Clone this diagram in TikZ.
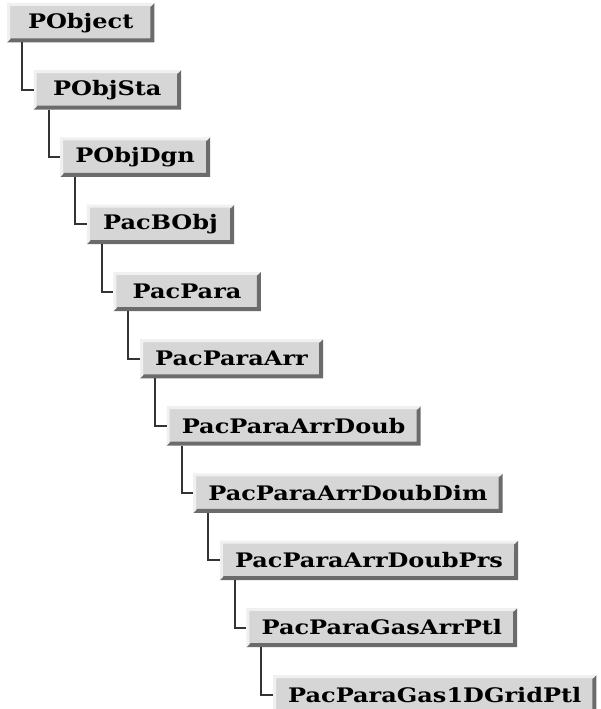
\documentclass[tikz,border=0pt]{standalone}
\usepackage{fontspec}
\newfontfamily\classfont{DejaVu Serif}[FakeStretch=1.2]
\usetikzlibrary{positioning}
\definecolor{boxface}{HTML}{D6D6D6}
\definecolor{boxlight}{HTML}{F0F0F0}
\definecolor{boxdark}{HTML}{6B6B6B}
\definecolor{linkdark}{HTML}{333333}
\tikzset{
  cls/.style={rectangle,fill=boxface,minimum height=39pt,minimum width=147pt,
    inner xsep=15pt,inner ysep=0pt,
    font=\classfont\bfseries\fontsize{20}{24}\selectfont},
  link/.style={draw=linkdark,line width=2pt}
}

\begin{document}
\begin{tikzpicture}[
    node distance=27.8pt,
    every node/.append style={anchor=north west}
]
\useasboundingbox (0,0) rectangle (600pt,-709pt);

% class chain, each one step down and right
\node[cls] (pobject) at (7pt,-3pt) {PObject};
\node[cls,below=of pobject.south west,anchor=north west,xshift=26.6pt] (pobjsta) {PObjSta};
\node[cls,below=of pobjsta.south west,anchor=north west,xshift=26.6pt] (pobjdgn) {PObjDgn};
\node[cls,below=of pobjdgn.south west,anchor=north west,xshift=26.6pt] (pacbobj) {PacBObj};
\node[cls,below=of pacbobj.south west,anchor=north west,xshift=26.6pt] (pacpara) {PacPara};
\node[cls,below=of pacpara.south west,anchor=north west,xshift=26.6pt] (arr) {PacParaArr};
\node[cls,below=of arr.south west,anchor=north west,xshift=26.6pt] (doub) {PacParaArrDoub};
\node[cls,below=of doub.south west,anchor=north west,xshift=26.6pt] (dim) {PacParaArrDoubDim};
\node[cls,below=of dim.south west,anchor=north west,xshift=26.6pt] (prs) {PacParaArrDoubPrs};
\node[cls,below=of prs.south west,anchor=north west,xshift=26.6pt] (gasarr) {PacParaGasArrPtl};
\node[cls,below=of gasarr.south west,anchor=north west,xshift=26.6pt] (grid) {PacParaGas1DGridPtl};

% bevelled edges
\foreach \n in {pobject,pobjsta,pobjdgn,pacbobj,pacpara,arr,doub,dim,prs,gasarr,grid}{
  \fill[boxdark] (\n.south west) -- (\n.south east) -- (\n.north east)
    -- ([shift={(-4pt,-4pt)}]\n.north east) -- ([shift={(-4pt,4pt)}]\n.south east)
    -- ([shift={(4pt,4pt)}]\n.south west) -- cycle;
  \fill[boxlight] (\n.south west) -- (\n.north west) -- (\n.north east)
    -- ([shift={(-3pt,-3pt)}]\n.north east) -- ([shift={(3pt,-3pt)}]\n.north west)
    -- ([shift={(3pt,3pt)}]\n.south west) -- cycle;
}

% inheritance links
\draw[link] ([xshift=15pt]pobject.south west) |- (pobjsta.west);
\draw[link] ([xshift=15pt]pobjsta.south west) |- (pobjdgn.west);
\draw[link] ([xshift=15pt]pobjdgn.south west) |- (pacbobj.west);
\draw[link] ([xshift=15pt]pacbobj.south west) |- (pacpara.west);
\draw[link] ([xshift=15pt]pacpara.south west) |- (arr.west);
\draw[link] ([xshift=15pt]arr.south west) |- (doub.west);
\draw[link] ([xshift=15pt]doub.south west) |- (dim.west);
\draw[link] ([xshift=15pt]dim.south west) |- (prs.west);
\draw[link] ([xshift=15pt]prs.south west) |- (gasarr.west);
\draw[link] ([xshift=15pt]gasarr.south west) |- (grid.west);

\end{tikzpicture}
\end{document}
